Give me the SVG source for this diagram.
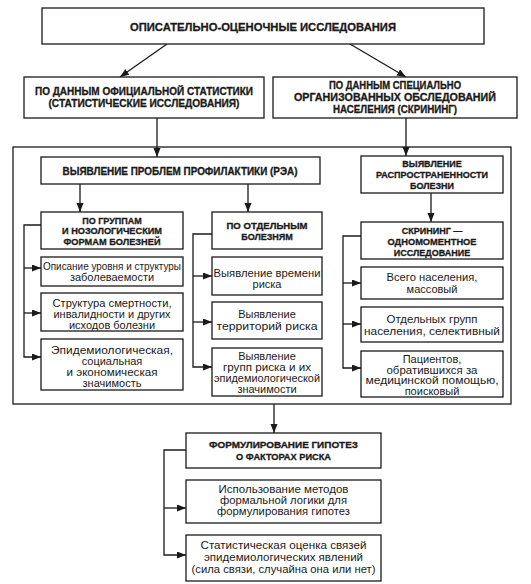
<svg xmlns="http://www.w3.org/2000/svg" width="531" height="584" viewBox="0 0 531 584">
<defs>
<marker id="ah" markerUnits="userSpaceOnUse" markerWidth="10" markerHeight="8" refX="9" refY="3.5" orient="auto">
<path d="M0,0 L9,3.5 L0,7 z" fill="#1a1a1a"/>
</marker>
<style>
rect{fill:#fff;stroke:#1a1a1a;stroke-width:1.3}
.c{fill:none;stroke:#1a1a1a;stroke-width:1.3}
.a{marker-end:url(#ah)}
text{font-family:"Liberation Sans",Arial,sans-serif;fill:#1a1a1a;text-anchor:middle}
.b,.b2,.t{stroke:#1a1a1a;stroke-width:0.3}
.b{font-weight:bold;font-size:9px}
.b2{font-weight:bold;font-size:10px}
.r{font-size:11px}
.t{font-weight:bold;font-size:11.3px}
</style>
</defs>
<rect x="0" y="0" width="531" height="584" style="fill:#fff;stroke:none"/>
<g id="frame"><rect x="13" y="147" width="498" height="257"/></g>
<g id="connectors">
<line class="c a" x1="167" y1="44" x2="120" y2="77"/>
<line class="c a" x1="350" y1="44" x2="406" y2="77"/>
<line class="c a" x1="157" y1="118" x2="157" y2="157"/>
<line class="c a" x1="406" y1="118" x2="406" y2="156"/>
<line class="c a" x1="80" y1="184" x2="80" y2="212"/>
<line class="c a" x1="248" y1="184" x2="248" y2="212"/>
<line class="c a" x1="431" y1="193" x2="431" y2="222"/>
<path class="c a" d="M41,225 H24 V357 H41"/>
<line class="c a" x1="24" y1="268" x2="41" y2="268"/>
<line class="c a" x1="24" y1="313" x2="41" y2="313"/>
<path class="c a" d="M212,234 H193 V367 H212"/>
<line class="c a" x1="193" y1="276" x2="212" y2="276"/>
<line class="c a" x1="193" y1="322" x2="212" y2="322"/>
<path class="c a" d="M361,236 H343 V368 H361"/>
<line class="c a" x1="343" y1="283" x2="361" y2="283"/>
<line class="c a" x1="343" y1="324" x2="361" y2="324"/>
<line class="c a" x1="274" y1="404" x2="274" y2="433"/>
<path class="c a" d="M186,450 H164 V555 H186"/>
<line class="c a" x1="164" y1="508" x2="186" y2="508"/>
</g>
<g id="n-top"><rect x="42" y="8" width="442" height="36"/><text class="t" x="263" y="31" textLength="266" lengthAdjust="spacingAndGlyphs">ОПИСАТЕЛЬНО-ОЦЕНОЧНЫЕ ИССЛЕДОВАНИЯ</text></g>
<g id="n-official"><rect x="24" y="77" width="240" height="41"/><text class="b2" x="144" y="95" textLength="218" lengthAdjust="spacingAndGlyphs">ПО ДАННЫМ ОФИЦИАЛЬНОЙ СТАТИСТИКИ</text><text class="b2" x="144" y="106.5" textLength="191" lengthAdjust="spacingAndGlyphs">(СТАТИСТИЧЕСКИЕ ИССЛЕДОВАНИЯ)</text></g>
<g id="n-special"><rect x="273" y="77" width="244" height="41"/><text class="b2" x="395" y="89" textLength="132" lengthAdjust="spacingAndGlyphs">ПО ДАННЫМ СПЕЦИАЛЬНО</text><text class="b2" x="395" y="101" textLength="202" lengthAdjust="spacingAndGlyphs">ОРГАНИЗОВАННЫХ ОБСЛЕДОВАНИЙ</text><text class="b2" x="395" y="113" textLength="124" lengthAdjust="spacingAndGlyphs">НАСЕЛЕНИЯ (СКРИНИНГ)</text></g>
<g id="n-rea"><rect x="41" y="157" width="279" height="27"/><text class="b2" x="180" y="174.5" textLength="235" lengthAdjust="spacingAndGlyphs">ВЫЯВЛЕНИЕ ПРОБЛЕМ ПРОФИЛАКТИКИ (РЭА)</text></g>
<g id="n-prev"><rect x="361" y="156" width="142" height="37"/><text class="b" x="432" y="167">ВЫЯВЛЕНИЕ</text><text class="b" x="432" y="178" textLength="112" lengthAdjust="spacingAndGlyphs">РАСПРОСТРАНЕННОСТИ</text><text class="b" x="432" y="189">БОЛЕЗНИ</text></g>
<g id="n-groups"><rect x="41" y="212" width="142" height="37"/><text class="b" x="112" y="223.5">ПО ГРУППАМ</text><text class="b" x="112" y="234" textLength="100" lengthAdjust="spacingAndGlyphs">И НОЗОЛОГИЧЕСКИМ</text><text class="b" x="112" y="244.5" textLength="97" lengthAdjust="spacingAndGlyphs">ФОРМАМ БОЛЕЗНЕЙ</text></g>
<g id="n-separate"><rect x="212" y="212" width="110" height="37"/><text class="b" x="267" y="229" textLength="81" lengthAdjust="spacingAndGlyphs">ПО ОТДЕЛЬНЫМ</text><text class="b" x="267" y="240">БОЛЕЗНЯМ</text></g>
<g id="n-screen"><rect x="361" y="222" width="142" height="37"/><text class="b" x="432" y="233.5">СКРИНИНГ —</text><text class="b" x="432" y="244.5" textLength="89" lengthAdjust="spacingAndGlyphs">ОДНОМОМЕНТНОЕ</text><text class="b" x="432" y="255.5">ИССЛЕДОВАНИЕ</text></g>
<g id="n-l1"><rect x="41" y="257" width="142" height="29"/><text class="r" x="112" y="270" textLength="138" lengthAdjust="spacingAndGlyphs">Описание уровня и структуры</text><text class="r" x="112" y="281">заболеваемости</text></g>
<g id="n-l2"><rect x="41" y="293" width="142" height="38"/><text class="r" x="112" y="306.5" textLength="119" lengthAdjust="spacingAndGlyphs">Структура смертности,</text><text class="r" x="112" y="317.5" textLength="117" lengthAdjust="spacingAndGlyphs">инвалидности и других</text><text class="r" x="112" y="328.5">исходов болезни</text></g>
<g id="n-l3"><rect x="41" y="339" width="142" height="51"/><text class="r" x="112" y="353.5" textLength="122" lengthAdjust="spacingAndGlyphs">Эпидемиологическая,</text><text class="r" x="112" y="364.5">социальная</text><text class="r" x="112" y="375.5" textLength="91" lengthAdjust="spacingAndGlyphs">и экономическая</text><text class="r" x="112" y="386.5">значимость</text></g>
<g id="n-m1"><rect x="212" y="257" width="110" height="38"/><text class="r" x="267" y="277" textLength="107" lengthAdjust="spacingAndGlyphs">Выявление времени</text><text class="r" x="267" y="288">риска</text></g>
<g id="n-m2"><rect x="212" y="302" width="110" height="37"/><text class="r" x="267" y="318">Выявление</text><text class="r" x="267" y="329.5" textLength="101" lengthAdjust="spacingAndGlyphs">территорий риска</text></g>
<g id="n-m3"><rect x="212" y="348" width="110" height="48"/><text class="r" x="267" y="360">Выявление</text><text class="r" x="267" y="371" textLength="88" lengthAdjust="spacingAndGlyphs">групп риска и их</text><text class="r" x="267" y="382" textLength="106" lengthAdjust="spacingAndGlyphs">эпидемиологической</text><text class="r" x="267" y="392.5">значимости</text></g>
<g id="n-r1"><rect x="361" y="267" width="142" height="32"/><text class="r" x="432" y="281" textLength="91" lengthAdjust="spacingAndGlyphs">Всего населения,</text><text class="r" x="432" y="292.5">массовый</text></g>
<g id="n-r2"><rect x="361" y="307" width="142" height="35"/><text class="r" x="432" y="322.5" textLength="91" lengthAdjust="spacingAndGlyphs">Отдельных групп</text><text class="r" x="432" y="334.5" textLength="136" lengthAdjust="spacingAndGlyphs">населения, селективный</text></g>
<g id="n-r3"><rect x="361" y="351" width="142" height="46"/><text class="r" x="432" y="363">Пациентов,</text><text class="r" x="432" y="373.5" textLength="91" lengthAdjust="spacingAndGlyphs">обратившихся за</text><text class="r" x="432" y="384" textLength="133" lengthAdjust="spacingAndGlyphs">медицинской помощью,</text><text class="r" x="432" y="394.5">поисковый</text></g>
<g id="n-hyp"><rect x="186" y="433" width="195" height="35"/><text class="b" x="283.5" y="448" textLength="149" lengthAdjust="spacingAndGlyphs">ФОРМУЛИРОВАНИЕ ГИПОТЕЗ</text><text class="b" x="283.5" y="459.5" textLength="95" lengthAdjust="spacingAndGlyphs">О ФАКТОРАХ РИСКА</text></g>
<g id="n-h1"><rect x="186" y="480" width="195" height="43"/><text class="r" x="283.5" y="492.5" textLength="130" lengthAdjust="spacingAndGlyphs">Использование методов</text><text class="r" x="283.5" y="503.5" textLength="127" lengthAdjust="spacingAndGlyphs">формальной логики для</text><text class="r" x="283.5" y="515" textLength="133" lengthAdjust="spacingAndGlyphs">формулирования гипотез</text></g>
<g id="n-h2"><rect x="186" y="535" width="195" height="46"/><text class="r" x="283.5" y="549" textLength="166" lengthAdjust="spacingAndGlyphs">Статистическая оценка связей</text><text class="r" x="283.5" y="561" textLength="159" lengthAdjust="spacingAndGlyphs">эпидемиологических явлений</text><text class="r" x="283.5" y="572.5" textLength="184" lengthAdjust="spacingAndGlyphs">(сила связи, случайна она или нет)</text></g>
</svg>
